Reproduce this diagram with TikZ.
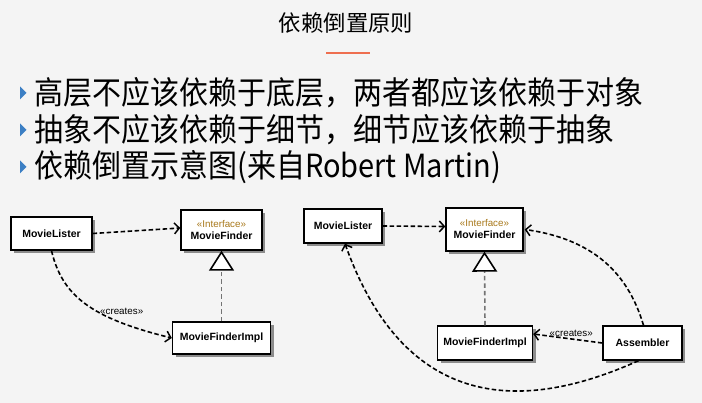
\documentclass[tikz,border=0pt]{standalone}
\usepackage{fontspec}
\usetikzlibrary{arrows.meta,shadows}
\newfontfamily\cjk{Noto Sans CJK SC}
\newfontfamily\umlfont{Liberation Sans}
\definecolor{slidebg}{HTML}{F4F4F4}
\definecolor{bulletblue}{HTML}{3C7FC4}
\definecolor{rulered}{HTML}{EE6E4F}
\definecolor{stereo}{HTML}{A8781A}

\begin{document}
\begin{tikzpicture}[x=1pt,y=-1pt,%
        cls/.style={draw, line width=1.4pt, fill=white, inner sep=0pt,%
                        font=\umlfont\bfseries\fontsize{10.5}{12}\selectfont,%
                        drop shadow={shadow xshift=3pt, shadow yshift=-3pt,%
                                     fill=black!45, opacity=1}},
        dep/.style={line width=1.6pt, dash pattern=on 4.5pt off 2.5pt,%
                        -{Straight Barb[length=5pt, width=11pt, line width=1.5pt]}},
        real/.style={line width=1.6pt, draw=black!55, dash pattern=on 4.5pt off 3pt,%
                        -{Triangle[open, length=20pt, width=25pt, color=black, fill=white, line width=1.6pt]}},
        stereotype/.style={font=\umlfont\fontsize{9.8}{10}\selectfont},
        bullet/.style={fill=bulletblue, draw=none},
        line/.style={anchor=west, inner sep=0pt, yscale=1.1, font=\cjk\fontsize{29}{32}\selectfont}]
    \fill[slidebg] (0,0) rectangle (702,403);
    \useasboundingbox (0,0) rectangle (702,403);
    % title
    \node[font=\cjk\fontsize{22.4}{24}\selectfont] (title) at (346,23) {依赖倒置原则};
    \draw[rulered, line width=2pt] (326,53) -- (370,53);
    % bullet points
    \foreach \y/\txt [count=\i] in {93/高层不应该依赖于底层，两者都应该依赖于对象,%
                                    130/抽象不应该依赖于细节，细节应该依赖于抽象,%
                                    167/依赖倒置示意图(来自Robert Martin)} {
        \fill[bullet] (20,\y-6.5) -- (26.5,\y) -- (20,\y+6.5) -- cycle;
        \node[line] (point\i) at (34,\y) {\txt};
    }
    % left diagram
    \node[cls, minimum width=81, minimum height=33] (lister1) at (51.5,233.5) {MovieLister};
    \node[cls, minimum width=81, minimum height=40, align=center] (finder1) at (221.5,230)
        {{\umlfont\mdseries\fontsize{9.8}{10}\selectfont\color{stereo}«Interface»}\\[0pt]MovieFinder};
    \node[cls, minimum width=98, minimum height=32] (impl1) at (221.5,338) {MovieFinderImpl};
    \draw[dep] (lister1.east) -- ([yshift=2pt]finder1.west);
    \draw[dep] (lister1.south) .. controls (62,295) and (90,318) .. (impl1.west)
        node[stereotype, pos=0.76, above=4pt] (creates1) {«creates»};
    \draw[real] (impl1.north) -- (finder1.south);
    % right diagram
    \node[cls, minimum width=78, minimum height=34] (lister2) at (343,226) {MovieLister};
    \node[cls, minimum width=77, minimum height=43, align=center] (finder2) at (484.5,229.5)
        {{\umlfont\mdseries\fontsize{9.8}{10}\selectfont\color{stereo}«Interface»}\\[0pt]MovieFinder};
    \node[cls, minimum width=95, minimum height=34] (impl2) at (485,343) {MovieFinderImpl};
    \node[cls, minimum width=79, minimum height=34] (asm) at (642.5,343) {Assembler};
    \draw[dep] (lister2.east) -- ([yshift=3pt]finder2.west);
    \draw[real] (impl2.north) -- (finder2.south);
    \draw[dep] (asm.west) -- ([yshift=9pt]impl2.east)
        node[stereotype, pos=0.45, above=-2pt] (creates2) {«creates»};
    \draw[dep] ([xshift=1pt]asm.north) .. controls (630,280) and (600,240) .. ([xshift=1pt]finder2.east);
    \draw[dep] ([xshift=-4pt]asm.south) .. controls (540,405) and (410,425) .. ([xshift=2pt]lister2.south);
\end{tikzpicture}
\end{document}
